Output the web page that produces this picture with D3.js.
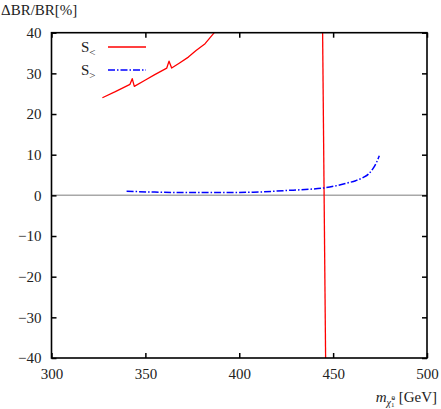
<!doctype html>
<html lang="en">
<head>
<meta charset="utf-8">
<title>Delta BR</title>
<script src="https://d3js.org/d3.v7.min.js"></script>
<style>
  body { margin: 0; background: #fff; }
  svg text { font-family: "Liberation Serif", "DejaVu Serif", serif !important; fill: #222; }
</style>
</head>
<body>
<div id="chart"></div>
<script type="text/javascript">

 // values
 const xTicks = [300, 350, 400, 450, 500]
 const yTicks = [-40, -30, -20, -10, 0, 10, 20, 30, 40]

 const sLessMass = [327.1, 334, 341.8, 343.0, 344.1, 349.8, 355, 361.4, 362.6, 364.0, 368, 372.9, 377, 381.8, 386.7, 388]
 const sLessVal  = [24.0, 25.5, 27.3, 28.7, 26.8, 28.3, 29.7, 31.3, 33.0, 31.3, 32.5, 34.0, 35.6, 37.3, 40.0, 40.8]

 const sLessPoleMass = [444.3, 446.1]
 const sLessPoleVal  = [45, -45]

 const sMoreMass = [340, 355, 372, 390, 407.5, 425.3, 437, 444.8, 452, 457.2, 462, 466.1, 469, 471.4, 473, 474.6]
 const sMoreVal  = [1.0, 0.8, 0.7, 0.7, 0.78, 1.2, 1.5, 1.8, 2.4, 3.0, 3.6, 4.4, 5.3, 6.7, 8.0, 9.75]

 const W = 441, H = 409
 const pl = 51.5, pr = 427, pt = 32.7, pb = 358

 const svg = d3.select('#chart').append('svg')
               .attr('width', W).attr('height', H)

 const x = d3.scaleLinear().domain([300, 500]).range([pl, pr])
 const y = d3.scaleLinear().domain([-40, 40]).range([pb, pt])

 svg.append('clipPath').attr('id', 'clip')
    .append('rect')
    .attr('x', pl).attr('y', pt)
    .attr('width', pr - pl).attr('height', pb - pt)

 // zero line
 svg.append('line')
    .attr('x1', pl).attr('x2', pr)
    .attr('y1', y(0)).attr('y2', y(0))
    .attr('stroke', '#a8a8a8').attr('stroke-width', 1.5)

 const line = d3.line().x(d => x(d[0])).y(d => y(d[1]))
 const smooth = d3.line().x(d => x(d[0])).y(d => y(d[1])).curve(d3.curveMonotoneX)
 const zip = (a, b) => a.map((v, i) => [v, b[i]])

 const plot = svg.append('g').attr('clip-path', 'url(#clip)')

 plot.append('path')
     .attr('d', line(zip(sLessMass, sLessVal)))
     .attr('fill', 'none').attr('stroke', '#ff0000').attr('stroke-width', 1.3)
     .attr('stroke-linejoin', 'round')

 plot.append('path')
     .attr('d', line(zip(sLessPoleMass, sLessPoleVal)))
     .attr('fill', 'none').attr('stroke', '#ff0000').attr('stroke-width', 1.3)

 plot.append('path')
     .attr('d', smooth(zip(sMoreMass, sMoreVal)))
     .attr('fill', 'none').attr('stroke', '#0000ff').attr('stroke-width', 1.5)
     .attr('stroke-dasharray', '7,2,1.5,2')

 // axes, ticks pointing inwards on all four sides
 const tl = 5
 svg.append('g').attr('transform', `translate(0,${pb})`)
    .call(d3.axisBottom(x).tickValues(xTicks).tickSize(-tl).tickPadding(10).tickFormat(d3.format('d')))
 svg.append('g').attr('transform', `translate(0,${pt})`)
    .call(d3.axisTop(x).tickValues(xTicks).tickSize(-tl).tickFormat(''))
 svg.append('g').attr('transform', `translate(${pl},0)`)
    .call(d3.axisLeft(y).tickValues(yTicks).tickSize(-tl).tickPadding(10)
      .tickFormat(d => d < 0 ? '\u2212' + Math.abs(d) : d))
 svg.append('g').attr('transform', `translate(${pr},0)`)
    .call(d3.axisRight(y).tickValues(yTicks).tickSize(-tl).tickFormat(''))

 svg.selectAll('.domain').remove()
 svg.selectAll('.tick line').attr('stroke', '#000').attr('stroke-width', 1.5)
 svg.selectAll('.tick text').attr('font-size', 15).attr('fill', '#222')

 svg.append('rect')
    .attr('x', pl).attr('y', pt)
    .attr('width', pr - pl).attr('height', pb - pt)
    .attr('fill', 'none').attr('stroke', '#000').attr('stroke-width', 1.6)

 // legend
 const legend = [
   { sym: '<', color: '#ff0000', dash: null },
   { sym: '>', color: '#0000ff', dash: '7,2,1.5,2' }
 ]
 legend.forEach((l, i) => {
   const ly = 47 + i * 23
   const t = svg.append('text').attr('x', 81).attr('y', ly + 5).attr('font-size', 15)
   t.append('tspan').text('S')
   t.append('tspan').attr('font-size', 11).attr('dy', 4).text(l.sym)
   svg.append('line')
      .attr('x1', 108).attr('x2', 146).attr('y1', ly).attr('y2', ly)
      .attr('stroke', l.color).attr('stroke-width', l.dash ? 1.5 : 1.3)
      .attr('stroke-dasharray', l.dash)
 })

 // axis titles
 svg.append('text').attr('x', 1).attr('y', 15).attr('font-size', 15)
    .text('\u0394BR/BR[%]')

 const xt = svg.append('text').attr('x', 437).attr('y', 402)
               .attr('text-anchor', 'end').attr('font-size', 15)
 xt.append('tspan').attr('font-style', 'italic').text('m')
 xt.append('tspan').attr('font-size', 10).attr('font-style', 'italic').attr('dy', 4).text('\u03C7\u0303')
 xt.append('tspan').attr('font-size', 7).attr('dy', 1).text('1')
 xt.append('tspan').attr('font-size', 7).attr('dx', -3).attr('dy', -7).text('0')
 xt.append('tspan').attr('dy', 2).text(' [GeV]')

</script>
</body>
</html>
